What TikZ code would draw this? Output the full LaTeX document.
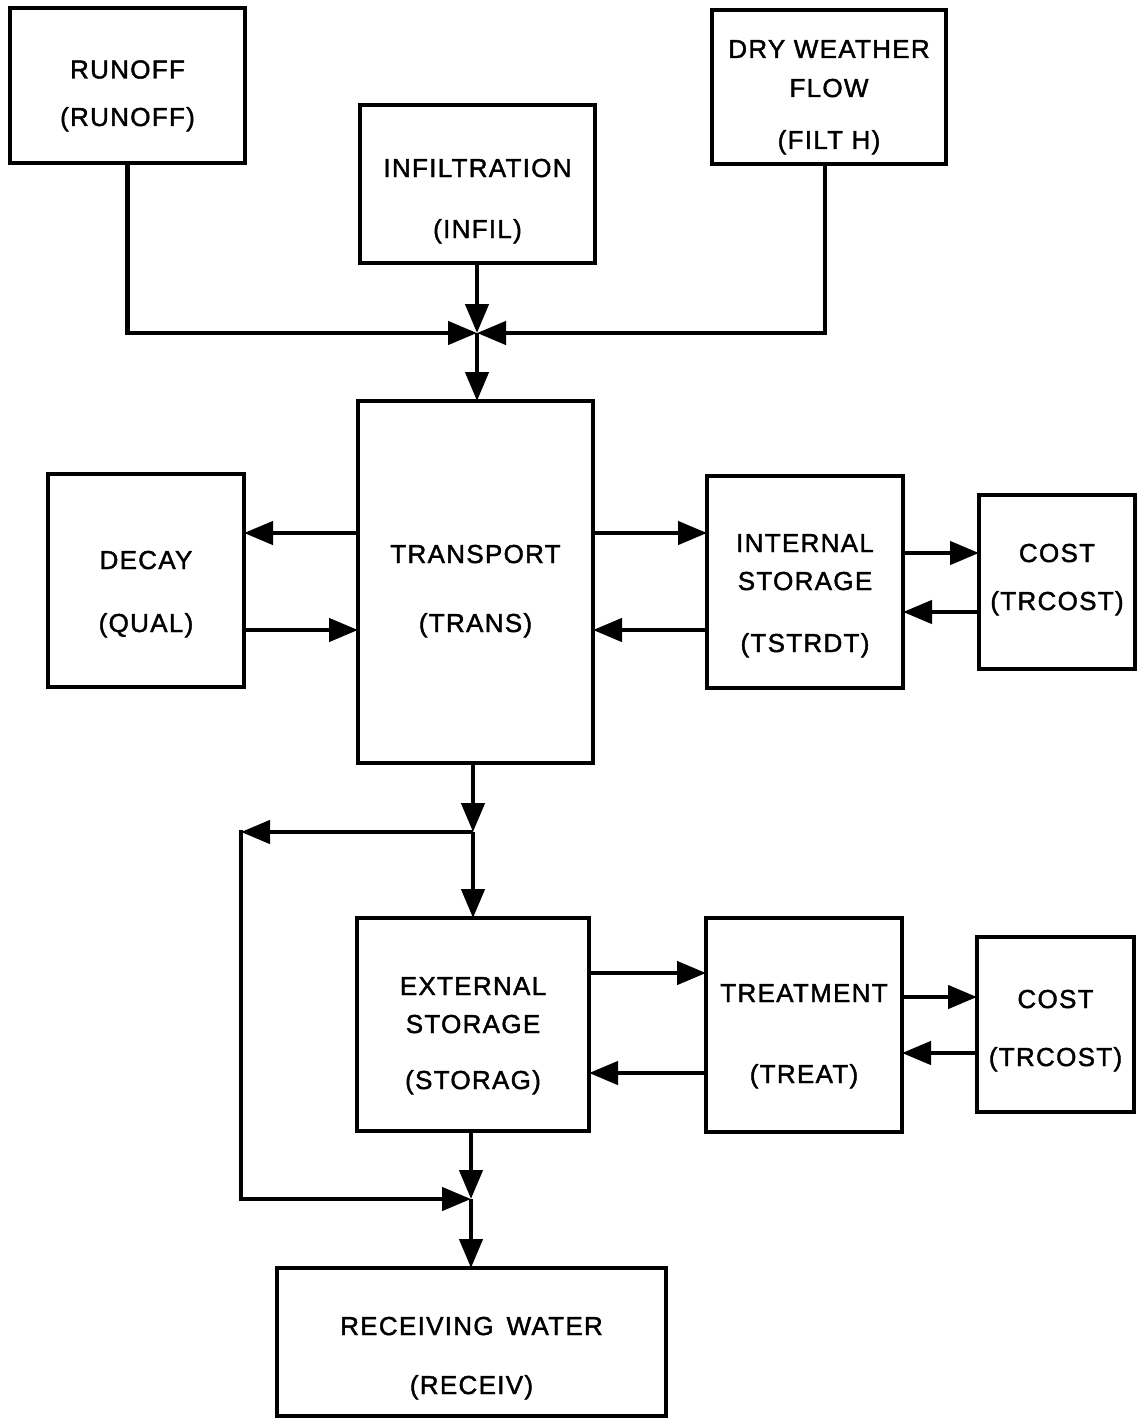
\documentclass[tikz,border=0pt]{standalone}
\usepackage{fontspec}
\setmainfont{Liberation Sans}[LetterSpace=5,FakeBold=1.6]
\usetikzlibrary{arrows.meta}
\newcommand\rw[2]{\rule[-#2pt]{0pt}{\dimexpr #1pt+#2pt\relax}}
\renewcommand\arraystretch{0}
\begin{document}
\begin{tikzpicture}[x=1pt,y=-1pt,
  box/.style={draw, line width=4.5pt, inner sep=0pt, outer sep=0pt,
    font=\fontsize{26}{30}\selectfont},
  arr/.style={line width=4.5pt, -{Triangle[length=29pt,width=23pt]}}]
\fill[white] (0,0) rectangle (1137,1418);
\useasboundingbox (0,0) rectangle (1137,1418);

\node[box, minimum width=235pt, minimum height=155pt] (runoff) at (127.5,85.5)
  {\begin{tabular}{@{}c@{}}\rw{70.5}{8}RUNOFF\\\rw{39.5}{37}(RUNOFF)\end{tabular}};
\node[box, minimum width=235pt, minimum height=158pt] (infil) at (477.5,184)
  {\begin{tabular}{@{}c@{}}\rw{72}{8}INFILTRATION\\\rw{53}{25}(INFIL)\end{tabular}};
\node[box, minimum width=234pt, minimum height=154pt] (dwf) at (829,87)
  {\begin{tabular}{@{}c@{}}\rw{48}{8}DRY WEATHER\\\rw{31}{8}FLOW\\\rw{44}{15}(FILT H)\end{tabular}};
\node[box, minimum width=235pt, minimum height=362pt] (trans) at (475.5,582)
  {\begin{tabular}{@{}c@{}}\rw{162}{8}TRANSPORT\\\rw{61}{131}(TRANS)\end{tabular}};
\node[box, minimum width=196pt, minimum height=213pt] (decay) at (146,580.5)
  {\begin{tabular}{@{}c@{}}\rw{95}{8}DECAY\\\rw{55}{55}(QUAL)\end{tabular}};
\node[box, minimum width=196pt, minimum height=212pt] (intst) at (805,582)
  {\begin{tabular}{@{}c@{}}\rw{76}{8}INTERNAL\\\rw{30}{8}STORAGE\\\rw{54}{36}(TSTRDT)\end{tabular}};
\node[box, minimum width=156pt, minimum height=174pt] (cost1) at (1057,582)
  {\begin{tabular}{@{}c@{}}\rw{67}{8}COST\\\rw{40}{59}(TRCOST)\end{tabular}};
\node[box, minimum width=232pt, minimum height=213pt] (extst) at (473,1024.5)
  {\begin{tabular}{@{}c@{}}\rw{77}{8}EXTERNAL\\\rw{30}{8}STORAGE\\\rw{48}{42}(STORAG)\end{tabular}};
\node[box, minimum width=196pt, minimum height=214pt] (treat) at (804,1025)
  {\begin{tabular}{@{}c@{}}\rw{84}{8}TREATMENT\\\rw{73}{49}(TREAT)\end{tabular}};
\node[box, minimum width=157pt, minimum height=175pt] (cost2) at (1055.5,1024.5)
  {\begin{tabular}{@{}c@{}}\rw{71}{8}COST\\\rw{50}{46}(TRCOST)\end{tabular}};
\node[box, minimum width=389pt, minimum height=148pt] (recv) at (471.5,1342)
  {\begin{tabular}{@{}c@{}}\rw{67}{8}RECEIVING\hspace{0.5em}WATER\\\rw{51}{22}(RECEIV)\end{tabular}};

\coordinate (j1) at (477,333);
\coordinate (j2) at (473,832);
\coordinate (j3) at (471,1199);
\coordinate (c1) at (241,832);
\coordinate (c2) at (241,1199);
\coordinate (ya) at (0,533);
\coordinate (yb) at (0,630);
\coordinate (yc) at (0,553);
\coordinate (yd) at (0,612);
\coordinate (ye) at (0,973);
\coordinate (yf) at (0,1073);
\coordinate (yg) at (0,997);
\coordinate (yh) at (0,1053);

\draw[arr] (runoff.south) |- (j1);
\draw[arr] ([xshift=-4pt]dwf.south) |- (j1);
\draw[arr] (infil.south -| j1) -- (j1);
\draw[arr] (j1) -- (j1 |- trans.north);
\draw[arr] (trans.west |- ya) -- (decay.east |- ya);
\draw[arr] (decay.east |- yb) -- (trans.west |- yb);
\draw[arr] (trans.east |- ya) -- (intst.west |- ya);
\draw[arr] (intst.west |- yb) -- (trans.east |- yb);
\draw[arr] (intst.east |- yc) -- (cost1.west |- yc);
\draw[arr] (cost1.west |- yd) -- (intst.east |- yd);
\draw[arr] (j2 |- trans.south) -- (j2);
\draw[arr] (j2) -- (j2 |- extst.north);
\draw[arr] (j2) -- (c1);
\draw[arr, line cap=rect] (c1) -- (c2) -- (j3);
\draw[arr] (extst.east |- ye) -- (treat.west |- ye);
\draw[arr] (treat.west |- yf) -- (extst.east |- yf);
\draw[arr] (treat.east |- yg) -- (cost2.west |- yg);
\draw[arr] (cost2.west |- yh) -- (treat.east |- yh);
\draw[arr] (j3 |- extst.south) -- (j3);
\draw[arr] (j3) -- (j3 |- recv.north);
\end{tikzpicture}
\end{document}
